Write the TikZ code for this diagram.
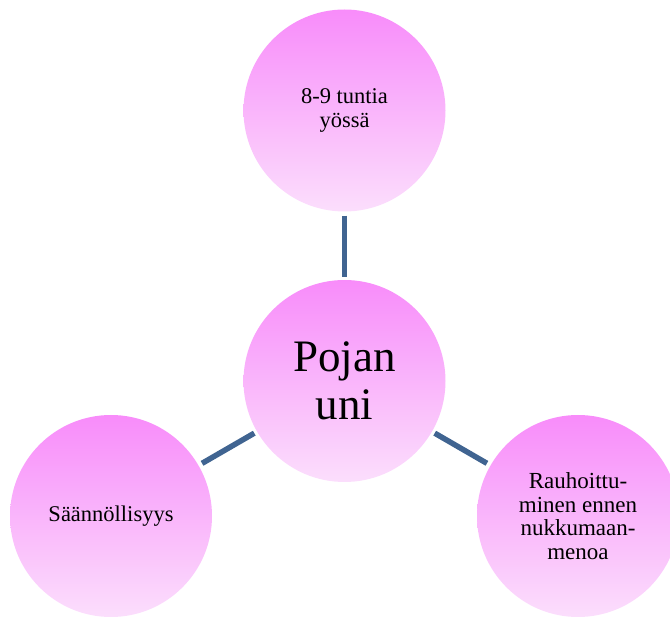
\documentclass[tikz,border=0pt]{standalone}
\usepackage{fontspec}
\setmainfont{Liberation Serif}
\definecolor{nodetop}{RGB}{248,140,250}
\definecolor{nodebottom}{RGB}{251,222,252}
\definecolor{linkblue}{RGB}{64,100,145}
\begin{document}
\begin{tikzpicture}[x=1pt,y=-1pt,main node/.style={circle,minimum size=202pt,inner sep=0pt,top color=nodetop,bottom color=nodebottom,align=center,font=\fontsize{22.5}{24}\selectfont},link/.style={draw=linkblue,line width=5.5pt,shorten <=4pt,shorten >=3pt}]

                    \useasboundingbox (0,0) rectangle (670,617);

                    \node[main node] at (344.5, 110.5) (hours) {8-9 tuntia\\yössä};
                    \node[main node,font=\fontsize{45}{48}\selectfont] at (344.5, 381) (sleep) {Pojan\\uni};
                    \node[main node] at (111, 516) (rhythm) {Säännöllisyys};
                    \node[main node,font=\fontsize{23}{23.5}\selectfont] at (578, 516) (calm) {Rauhoittu-\\minen ennen\\nukkumaan-\\menoa};

                    \path[link] (hours) edge (sleep);
                    \path[link] (rhythm) edge (sleep);
                    \path[link] (calm) edge (sleep);
                \end{tikzpicture}
\end{document}
